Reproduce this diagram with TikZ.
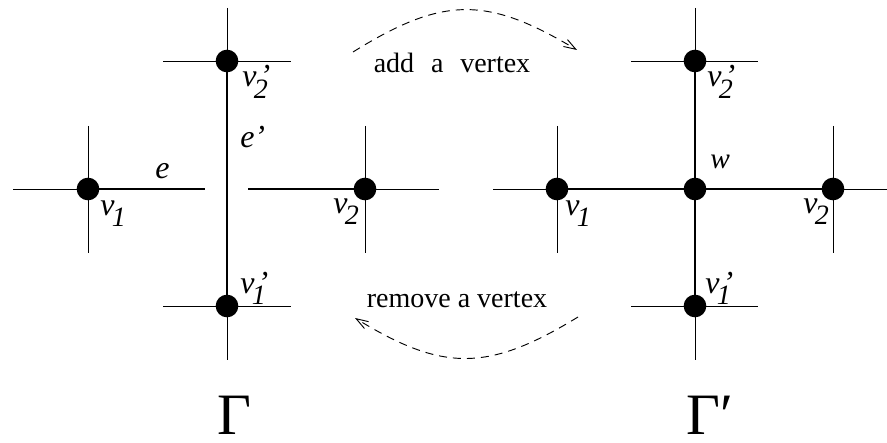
\documentclass[tikz,border=0pt]{standalone}
\usepackage{fontspec}
\setmainfont{Liberation Serif}
\usetikzlibrary{arrows.meta,calc}
\newcommand{\sub}[1]{\raisebox{-0.35em}{\fontsize{21}{21}\selectfont\textit{#1}}}
\newcommand{\vlab}[2]{\textit{v}\rlap{\hspace{0.1em}\textit{#2}}\hspace{-0.08em}\sub{#1}}

\begin{document}
\begin{tikzpicture}[x=0.75pt,y=-0.75pt,
  vtx/.style={circle,fill=black,inner sep=0pt,minimum size=17pt},
  stub/.style={line width=0.6pt},
  edge/.style={line width=1.6pt},
  lbl/.style={anchor=base west,inner sep=0pt,font=\fontsize{24}{28}\selectfont},
  txt/.style={anchor=base,inner sep=0pt,font=\fontsize{21}{25}\selectfont},
  big/.style={anchor=base,inner sep=0pt,text depth=0pt,font=\fontsize{44}{50}\selectfont},
  move/.style={dash pattern=on 6pt off 4.5pt,line width=0.7pt,-{Straight Barb[length=9pt,width=6pt]}}]
\useasboundingbox (0,0) rectangle (887,442);
% Gamma
\node[vtx] (a1) at (88,189) {};
\node[vtx] (a2) at (365,189) {};
\node[vtx] (a3) at (227,61) {};
\node[vtx] (a4) at (227,306) {};
% Gamma'
\node[vtx] (b1) at (557,189) {};
\node[vtx] (b2) at (833,189) {};
\node[vtx] (b3) at (695,61) {};
\node[vtx] (b4) at (695,306) {};
\node[vtx] (w) at (695,189) {};
\foreach \v/\l/\r/\u/\d in {a1/75/64/63/64,a2/64/74/63/64,a3/64/64/53/0,a4/64/64/0/54,
    b1/64/64/63/64,b2/64/54/63/64,b3/64/63/53/0,b4/64/63/0/54}
  \draw[stub] ($(\v)+(-\l,0)$) -- ($(\v)+(\r,0)$) ($(\v)+(0,-\u)$) -- ($(\v)+(0,\d)$);
\coordinate (ea) at (205,189);
\coordinate (eb) at (248,189);
\draw[edge] (a1.center) -- (ea) (eb) -- (a2.center) (a3.center) -- (a4.center);
\draw[edge] (b1.center) -- (b2.center) (b3.center) -- (b4.center);
% labels
\node[lbl] (la1) at (100,215) {\vlab{1}{}};
\node[lbl] (la2) at (333,213) {\vlab{2}{}};
\node[lbl] (la3) at (242,87) {\vlab{2}{'}};
\node[lbl] (la4) at (240,293) {\vlab{1}{'}};
\node[lbl] (le) at (155,178) {\textit{e}};
\node[lbl] (lf) at (240,147) {\textit{e'}};
\node[lbl] (lb1) at (565,215) {\vlab{1}{}};
\node[lbl] (lb2) at (803,213) {\vlab{2}{}};
\node[lbl] (lb3) at (707,87) {\vlab{2}{'}};
\node[lbl] (lb4) at (705,293) {\vlab{1}{'}};
\node[lbl] (lw) at (710,168) {\fontsize{22}{26}\selectfont\textit{w}};
\node[big] (g1) at (234,434) {Γ};
\node[big] (g2) at (710,434) {Γ′};
% add / remove
\node[txt] (add) at (452,73) {add\hspace{0.6em}a\hspace{0.6em}vertex};
\node[txt] (rem) at (457,307) {remove a vertex};
\coordinate (s1) at (353,52);
\coordinate (s2) at (577,50);
\coordinate (s3) at (578,317);
\coordinate (s4) at (355,318);
\draw[move] (s1) .. controls (443,-4) and (487,-4) .. (s2);
\draw[move] (s3) .. controls (488,372) and (443,372) .. (s4);
\end{tikzpicture}
\end{document}
